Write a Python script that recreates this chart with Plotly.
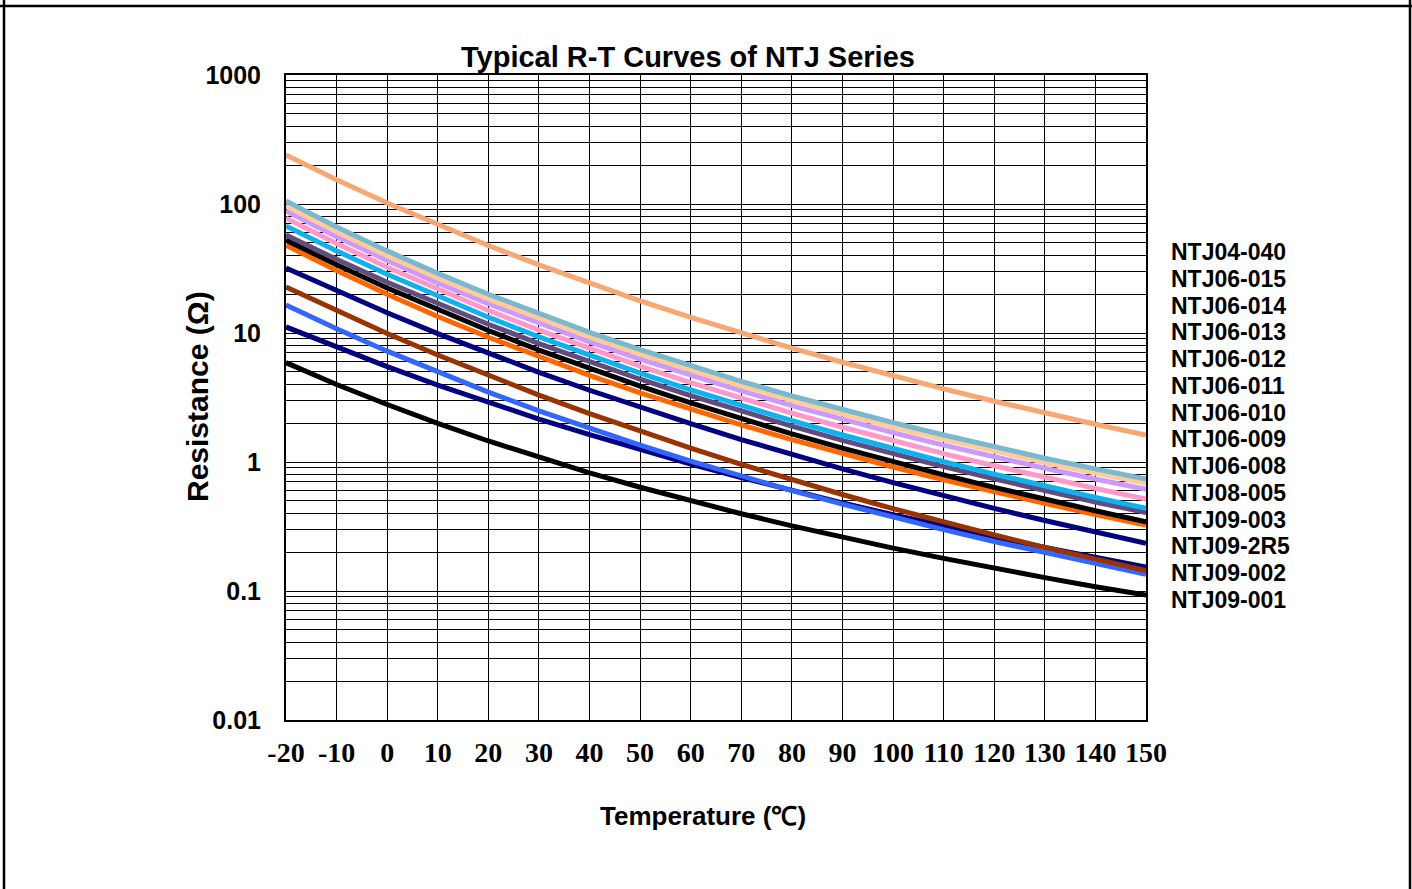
import plotly.graph_objects as go

# ---------------- data ----------------
temps = [-20, -10, 0, 10, 20, 30, 40, 50, 60, 70, 80, 90, 100, 110, 120, 130, 140, 150]

series_names = ["NTJ04-040", "NTJ06-015", "NTJ06-014", "NTJ06-013", "NTJ06-012",
                "NTJ06-011", "NTJ06-010", "NTJ06-009", "NTJ06-008", "NTJ08-005",
                "NTJ09-003", "NTJ09-2R5", "NTJ09-002", "NTJ09-001"]

ntj04_040 = [240, 154.2, 101.9, 68.96, 47.7, 33.7, 24.2, 17.75, 13.2, 9.98, 7.64, 5.93, 4.66, 3.69, 2.96, 2.40, 1.96, 1.62]
ntj06_015 = [105.4, 66.45, 43.3, 29.0, 19.96, 14.06, 10.12, 7.43, 5.55, 4.22, 3.25, 2.54, 2.02, 1.62, 1.31, 1.07, 0.885, 0.738]
ntj06_014 = [96.6, 60.95, 39.75, 26.66, 18.36, 12.94, 9.33, 6.85, 5.12, 3.90, 3.01, 2.35, 1.86, 1.50, 1.21, 0.992, 0.820, 0.684]
ntj06_013 = [88.3, 55.85, 36.45, 24.46, 16.85, 11.87, 8.55, 6.27, 4.68, 3.56, 2.74, 2.14, 1.69, 1.35, 1.095, 0.895, 0.738, 0.614]
ntj06_012 = [77.6, 49.37, 32.33, 21.73, 14.96, 10.53, 7.56, 5.53, 4.12, 3.11, 2.39, 1.86, 1.46, 1.16, 0.936, 0.761, 0.624, 0.516]
ntj06_011 = [67.6, 43.3, 28.5, 19.22, 13.26, 9.34, 6.70, 4.89, 3.63, 2.74, 2.09, 1.62, 1.27, 1.006, 0.805, 0.651, 0.531, 0.438]
ntj06_010 = [57.5, 37.24, 24.74, 16.81, 11.68, 8.28, 5.97, 4.38, 3.27, 2.47, 1.90, 1.47, 1.16, 0.921, 0.740, 0.600, 0.490, 0.405]
ntj06_009 = [52.5, 33.8, 22.35, 15.11, 10.45, 7.37, 5.29, 3.87, 2.87, 2.17, 1.65, 1.28, 1.003, 0.795, 0.636, 0.514, 0.419, 0.344]
ntj06_008 = [47.9, 30.46, 19.97, 13.44, 9.27, 6.53, 4.70, 3.44, 2.57, 1.94, 1.49, 1.16, 0.915, 0.729, 0.587, 0.478, 0.392, 0.325]
ntj08_005 = [31.9, 21.2, 14.35, 9.90, 6.95, 4.96, 3.60, 2.65, 1.98, 1.49, 1.14, 0.885, 0.693, 0.548, 0.437, 0.352, 0.286, 0.234]
ntj09_003 = [22.75, 14.85, 9.91, 6.75, 4.68, 3.30, 2.37, 1.73, 1.28, 0.958, 0.728, 0.560, 0.435, 0.342, 0.272, 0.218, 0.176, 0.144]
ntj09_2r5 = [16.48, 10.78, 7.23, 4.96, 3.48, 2.49, 1.82, 1.35, 1.015, 0.775, 0.600, 0.471, 0.373, 0.299, 0.242, 0.198, 0.163, 0.135]
ntj09_002 = [11.14, 7.74, 5.48, 3.95, 2.89, 2.15, 1.63, 1.245, 0.965, 0.757, 0.601, 0.482, 0.390, 0.318, 0.262, 0.218, 0.182, 0.153]
ntj09_001 = [5.89, 3.99, 2.79, 1.99, 1.455, 1.085, 0.824, 0.637, 0.499, 0.397, 0.320, 0.260, 0.215, 0.179, 0.150, 0.127, 0.108, 0.093]

y_tick_vals = [0.01, 0.1, 1, 10, 100, 1000]
y_tick_text = ["0.01", "0.1", "1", "10", "100", "1000"]
x_tick_vals = temps
x_tick_text = [str(t) for t in temps]

# ---------------- styling ----------------
series_values = [ntj04_040, ntj06_015, ntj06_014, ntj06_013, ntj06_012, ntj06_011, ntj06_010,
                 ntj06_009, ntj06_008, ntj08_005, ntj09_003, ntj09_2r5, ntj09_002, ntj09_001]
colors = ["#F7A772", "#78B9CF", "#FFCC99", "#CC99FF", "#FF99CC", "#0DB2EE", "#614C7F",
          "#000000", "#FF6600", "#000080", "#993300", "#3366FF", "#000080", "#000000"]

fig = go.Figure()
# draw lowest-resistance series first so the upper curves sit on top
for name, vals, col in reversed(list(zip(series_names, series_values, colors))):
    fig.add_trace(go.Scatter(x=temps, y=vals, mode="lines", name=name,
                             line=dict(color=col, width=5), showlegend=False))

minor_vals = [k * 10 ** e for e in range(-2, 3) for k in range(2, 10)]

W, H = 1412, 889
L, R, T, B = 286, 1146, 75, 720

def px(xp):
    return (xp - L) / (R - L)

def py(yp):
    return (B - yp) / (B - T)

SANS = "Liberation Sans, Arial, sans-serif"
SERIF = "Liberation Serif, Times New Roman, serif"

fig.update_layout(
    width=W, height=H,
    margin=dict(l=L, r=W - R, t=T, b=H - B),
    paper_bgcolor="white", plot_bgcolor="white",
    font=dict(family=SANS, color="black"),
    xaxis=dict(range=[-20, 150], tickmode="array", tickvals=x_tick_vals, ticktext=x_tick_text,
               showgrid=True, gridcolor="black", gridwidth=1,
               showline=True, linecolor="black", linewidth=2, mirror=True,
               ticks="", ticklabelstandoff=6,
               tickfont=dict(family=SERIF, size=28, color="black", weight="bold"),
               zeroline=False),
    yaxis=dict(type="log", range=[-2, 3], tickmode="array", tickvals=y_tick_vals, ticktext=y_tick_text,
               showgrid=True, gridcolor="black", gridwidth=1,
               minor=dict(tickmode="array", tickvals=minor_vals, showgrid=True,
                          gridcolor="black", gridwidth=1, ticks=""),
               showline=True, linecolor="black", linewidth=2, mirror=True,
               ticks="", ticklabelstandoff=18,
               tickfont=dict(family=SANS, size=25, color="black", weight="bold"),
               zeroline=False),
)

annotations = [
    dict(text="<b>Typical R-T Curves of NTJ Series</b>", x=px(688), y=py(57), font=dict(size=29)),
    dict(text="<b>Temperature (℃)</b>", x=px(703), y=py(816), font=dict(size=26)),
    dict(text="<b>Resistance (Ω)</b>", x=px(197), y=py(397), textangle=-90, font=dict(size=30)),
]
label_top, label_step = 252, 26.77
for i, name in enumerate(series_names):
    annotations.append(dict(text="<b>" + name + "</b>", x=px(1169), y=py(label_top + i * label_step),
                            xanchor="left", font=dict(size=23)))
for a in annotations:
    a.setdefault("xanchor", "center")
    a.update(xref="paper", yref="paper", yanchor="middle", showarrow=False)
fig.update_layout(annotations=annotations)

# outer frame of the original sheet
frame = [
    (px(0), py(6), px(W), py(6)),
    (px(4), py(0), px(4), py(H)),
    (px(1410), py(0), px(1410), py(H)),
]
fig.update_layout(shapes=[dict(type="line", xref="paper", yref="paper", x0=a, y0=b, x1=c, y1=d,
                               line=dict(color="black", width=2.5)) for a, b, c, d in frame])

fig.write_html("out.html", config={"displayModeBar": False},
               post_script="document.body.style.margin='0px';document.body.style.overflow='hidden';")
